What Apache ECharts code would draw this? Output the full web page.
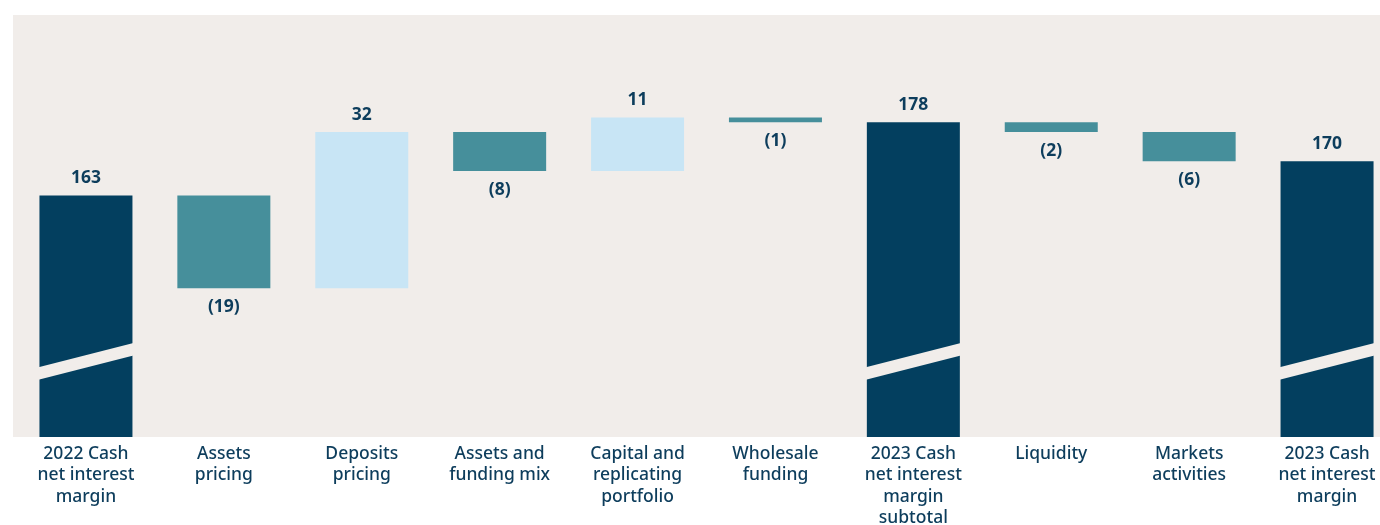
<!DOCTYPE html>
<html>
<head>
<meta charset="utf-8">
<script src="https://cdn.jsdelivr.net/npm/echarts@6/dist/echarts.min.js"></script>
<style>
  html, body { margin: 0; padding: 0; background: #ffffff; }
  #chart { width: 1380px; height: 525px; }
</style>
</head>
<body>
<div id="chart"></div>
<script>
const categories = [
  '2022 Cash\nnet interest\nmargin',
  'Assets\npricing',
  'Deposits\npricing',
  'Assets and\nfunding mix',
  'Capital and\nreplicating\nportfolio',
  'Wholesale\nfunding',
  '2023 Cash\nnet interest\nmargin\nsubtotal',
  'Liquidity',
  'Markets\nactivities',
  '2023 Cash\nnet interest\nmargin'
];
const values = [163, -19, 32, -8, 11, -1, 178, -2, -6, 170];
const isTotal = [true, false, false, false, false, false, true, false, false, true];
const axisMin = 113.5;
const axisMax = 200;
const breakAt = 129;

const COLOR_TOTAL = '#033f5f';
const COLOR_NEG = '#468f9b';
const COLOR_POS = '#c8e5f5';
const TEXT = '#0d3d5c';
const BG = '#f1edea';
const FONT = '"Noto Sans", "Open Sans", sans-serif';

// Build waterfall base/height from values
const baseData = [];
const barData = [];
let running = 0;
values.forEach((v, i) => {
  if (isTotal[i]) {
    running = v;
    baseData.push(0);
    barData.push({
      value: v,
      itemStyle: { color: COLOR_TOTAL },
      label: { position: 'top', distance: 8, formatter: String(v) }
    });
  } else if (v >= 0) {
    baseData.push(running);
    barData.push({
      value: v,
      itemStyle: { color: COLOR_POS },
      label: { position: 'top', distance: 8, formatter: String(v) }
    });
    running += v;
  } else {
    running += v;
    baseData.push(running);
    barData.push({
      value: -v,
      itemStyle: { color: COLOR_NEG },
      label: { position: 'bottom', distance: 10, formatter: '(' + (-v) + ')' }
    });
  }
});
const breakData = [];
values.forEach((v, i) => { if (isTotal[i]) breakData.push([i, breakAt]); });

const chart = echarts.init(document.getElementById('chart'), null, { renderer: 'canvas' });
chart.setOption({
  animation: false,
  backgroundColor: '#ffffff',
  graphic: [{
    type: 'rect', z: -10, silent: true,
    shape: { x: 13, y: 15, width: 1367, height: 422 },
    style: { fill: BG }
  }],
  grid: { left: 17, top: 15, width: 1379, height: 422, outerBoundsMode: 'none', containLabel: false },
  xAxis: {
    type: 'category',
    data: categories,
    axisLine: { show: false },
    axisTick: { show: false },
    axisLabel: {
      interval: 0, margin: 6,
      color: TEXT, fontFamily: FONT, fontSize: 17.5, fontWeight: 500, lineHeight: 21.5
    }
  },
  yAxis: {
    type: 'value', min: axisMin, max: axisMax, show: false,
    splitLine: { show: false }
  },
  series: [
    {
      type: 'bar', stack: 'w', barWidth: 93,
      itemStyle: { color: 'transparent' },
      data: baseData, silent: true
    },
    {
      type: 'bar', stack: 'w', barWidth: 93,
      label: {
        show: true, color: TEXT, fontFamily: FONT, fontSize: 17.5, fontWeight: 'bold'
      },
      data: barData
    },
    {
      type: 'custom',
      z: 5,
      silent: true,
      renderItem: function (params, api) {
        const c = api.coord([api.value(0), api.value(1)]);
        const hw = api.size([1, 0])[0] * 93 / 137.9 / 2 + 1;
        const s = 0.255, t = 12.7;
        const cx = c[0], cy = c[1];
        return {
          type: 'polygon',
          shape: { points: [
            [cx - hw, cy + s * hw - t / 2],
            [cx + hw, cy - s * hw - t / 2],
            [cx + hw, cy - s * hw + t / 2],
            [cx - hw, cy + s * hw + t / 2]
          ] },
          style: { fill: BG }
        };
      },
      data: breakData
    }
  ]
});
</script>
</body>
</html>
